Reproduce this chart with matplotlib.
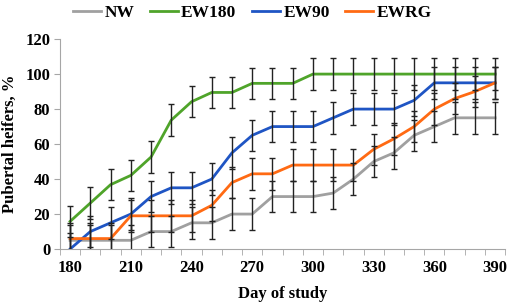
import matplotlib
matplotlib.use("Agg")
import matplotlib.pyplot as plt
import numpy as np

# days of study (category axis)
days = [180, 190, 200, 210, 220, 230, 240, 250, 260, 270, 280,
        290, 300, 310, 320, 330, 340, 350, 360, 370, 380, 390]

nw = [5, 5, 5, 5, 10, 10, 15, 15, 20, 20, 30,
      30, 30, 32, 40, 50, 55, 65, 70, 75, 75, 75]
ew180 = [15.8, 26.3, 36.8, 42.1, 52.6, 73.7, 84.2, 89.5, 89.5, 94.7, 94.7,
         94.7, 100, 100, 100, 100, 100, 100, 100, 100, 100, 100]
ew90 = [0, 10, 15, 20, 30, 35, 35, 40, 55, 65, 70,
        70, 70, 75, 80, 80, 80, 85, 95, 95, 95, 95]
ewrg = [6, 6, 6, 19, 19, 19, 19, 25, 38, 43, 43,
        48, 48, 48, 48, 57, 63, 70, 80, 86, 90, 95]
err = 9  # error bar half-width, %

names = ["NW", "EW180", "EW90", "EWRG"]
series = [nw, ew180, ew90, ewrg]
colors = ["#A0A0A0", "#4FA42A", "#1F55C4", "#FF6A13"]

plt.rcParams['font.family'] = ['Liberation Serif', 'DejaVu Serif']
plt.rcParams['font.weight'] = 'bold'

fig = plt.figure(figsize=(5.1, 3.03), dpi=100)
ax = fig.add_axes([0.1176, 0.178, 0.873, 0.693])

x = np.arange(len(days))
for name, y, c in zip(names, series, colors):
    ax.plot(x, y, color=c, lw=2, label=name, zorder=2)
    ax.errorbar(x, y, yerr=err, fmt='none', ecolor='#222222', elinewidth=1,
                capsize=2.3, capthick=1, zorder=3)

ax.set_xlim(-0.5, len(days) - 0.5)
ax.set_ylim(0, 120)
ax.set_yticks(range(0, 121, 20))
ax.set_xticks(x[::3])
ax.set_xticklabels([str(d) for d in days[::3]])
ax.set_xticks(np.arange(-0.5, len(days), 1), minor=True)
ax.tick_params(axis='x', which='major', length=0, pad=8, labelsize=12)
ax.tick_params(axis='x', which='minor', length=4, color='#A6A6A6')
ax.tick_params(axis='y', length=4, color='#A6A6A6', labelsize=12, pad=3)

for s in ['top', 'right']:
    ax.spines[s].set_visible(False)
for s in ['left', 'bottom']:
    ax.spines[s].set_color('#A6A6A6')

ax.set_xlabel('Day of study', fontsize=12, fontweight='bold', labelpad=7)
ax.set_ylabel('Pubertal heifers, %', fontsize=12, fontweight='bold', labelpad=5)

fig.legend(loc='upper center', bbox_to_anchor=(0.495, 1.035), ncol=4, frameon=False,
           prop={'size': 12.5, 'weight': 'bold'}, handlelength=1.6, columnspacing=0.9,
           handletextpad=0.2)

fig.savefig('out.png', dpi=100)
